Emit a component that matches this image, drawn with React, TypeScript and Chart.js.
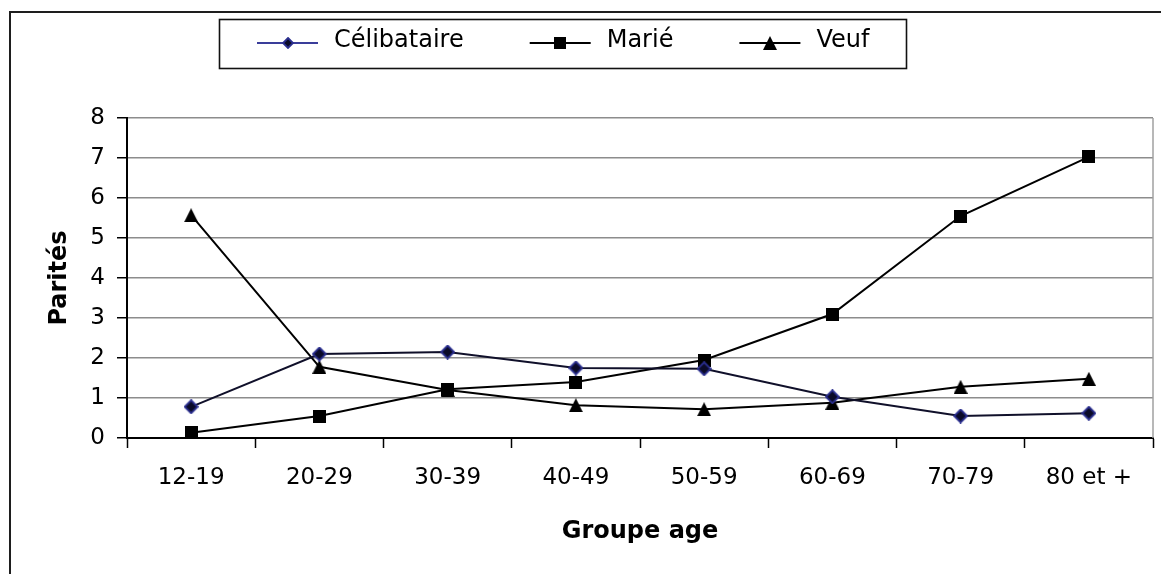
import React, { useEffect, useRef } from "react";
import { Chart, registerables } from "chart.js";

Chart.register(...registerables);

// ---- data ----
const categories = ["12-19", "20-29", "30-39", "40-49", "50-59", "60-69", "70-79", "80 et +"];
const celibataire = [0.78, 2.1, 2.15, 1.75, 1.73, 1.03, 0.55, 0.62];
const marie = [0.13, 0.55, 1.22, 1.4, 1.95, 3.1, 5.55, 7.03];
const veuf = [5.57, 1.78, 1.2, 0.82, 0.72, 0.88, 1.28, 1.48];
const seriesNames = ["Célibataire", "Marié", "Veuf"];
const yTicks = [0, 1, 2, 3, 4, 5, 6, 7, 8];
const xTitle = "Groupe age";
const yTitle = "Parités";

const FONT = '"DejaVu Sans", "Liberation Sans", Arial, sans-serif';

function makeMarker(kind: string, size: number, fill: string, stroke: string) {
  const c = document.createElement("canvas");
  c.width = size;
  c.height = size;
  const ctx = c.getContext("2d")!;
  ctx.fillStyle = fill;
  ctx.strokeStyle = stroke;
  ctx.lineWidth = 1.8;
  const s = size;
  ctx.beginPath();
  if (kind === "diamond") {
    ctx.moveTo(s / 2, 1);
    ctx.lineTo(s - 1, s / 2);
    ctx.lineTo(s / 2, s - 1);
    ctx.lineTo(1, s / 2);
    ctx.closePath();
    ctx.fill();
    ctx.stroke();
  } else if (kind === "square") {
    ctx.rect(0, 0, s, s);
    ctx.fill();
  } else {
    ctx.moveTo(s / 2, 0);
    ctx.lineTo(s, s);
    ctx.lineTo(0, s);
    ctx.closePath();
    ctx.fill();
  }
  return c;
}

export default function App() {
  const ref = useRef<HTMLCanvasElement | null>(null);

  useEffect(() => {
    if (!ref.current) return;
    const diamond = makeMarker("diamond", 15, "#0b0b28", "#2b2f8f");
    const square = makeMarker("square", 13, "#000", "#000");
    const triangle = makeMarker("triangle", 14, "#000", "#000");
    const legendDiamond = makeMarker("diamond", 12, "#0b0b28", "#2b2f8f");
    const legendSquare = makeMarker("square", 12, "#000", "#000");
    const legendTriangle = makeMarker("triangle", 14, "#000", "#000");
    const legendMarkers = [legendDiamond, legendSquare, legendTriangle];
    const legendLineColors = ["#3a3d9a", "#000", "#000"];

    const decor = {
      id: "decor",
      beforeDraw(chart: any) {
        const ctx = chart.ctx;
        ctx.save();
        ctx.fillStyle = "#fff";
        ctx.fillRect(0, 0, chart.width, chart.height);
        ctx.restore();
      },
      beforeDatasetsDraw(chart: any) {
        const ctx = chart.ctx;
        const { right, top, bottom } = chart.chartArea;
        ctx.save();
        ctx.strokeStyle = "#a0a0a0";
        ctx.lineWidth = 1.5;
        ctx.beginPath();
        ctx.moveTo(right, top);
        ctx.lineTo(right, bottom);
        ctx.stroke();
        ctx.restore();
      },
      afterDraw(chart: any) {
        const ctx = chart.ctx;
        ctx.save();
        // outer frame (top + left)
        ctx.strokeStyle = "#1e1e1e";
        ctx.lineWidth = 2;
        ctx.beginPath();
        ctx.moveTo(10, chart.height);
        ctx.lineTo(10, 12);
        ctx.lineTo(chart.width, 12);
        ctx.stroke();
        // legend box
        ctx.lineWidth = 1.6;
        ctx.strokeStyle = "#111";
        ctx.strokeRect(219.5, 19.5, 687, 49);
        // legend items
        ctx.font = `24px ${FONT}`;
        ctx.textBaseline = "middle";
        ctx.textAlign = "left";
        let x = 257;
        const ly = 43;
        chart.data.datasets.forEach((ds: any, i: number) => {
          ctx.strokeStyle = legendLineColors[i];
          ctx.lineWidth = 1.8;
          ctx.beginPath();
          ctx.moveTo(x, ly);
          ctx.lineTo(x + 61, ly);
          ctx.stroke();
          const m = legendMarkers[i];
          ctx.drawImage(m, Math.round(x + 30.5 - m.width / 2), Math.round(ly - m.height / 2));
          ctx.fillStyle = "#000";
          ctx.fillText(ds.label, x + 77, 41);
          x += 77 + ctx.measureText(ds.label).width + 66;
        });
        ctx.restore();
      },
    };

    const chart = new Chart(ref.current, {
      type: "line",
      data: {
        labels: categories,
        datasets: [
          {
            label: seriesNames[0],
            data: celibataire,
            borderColor: "#10102a",
            borderWidth: 2,
            pointStyle: diamond as any,
            tension: 0,
          },
          {
            label: seriesNames[1],
            data: marie,
            borderColor: "#000",
            borderWidth: 2,
            pointStyle: square as any,
            tension: 0,
          },
          {
            label: seriesNames[2],
            data: veuf,
            borderColor: "#000",
            borderWidth: 2,
            pointStyle: triangle as any,
            tension: 0,
          },
        ],
      },
      options: {
        responsive: false,
        animation: false,
        devicePixelRatio: 1,
        layout: { padding: { top: 118, right: 8, left: 0, bottom: 0 } },
        plugins: {
          legend: { display: false },
          tooltip: { enabled: false },
        },
        scales: {
          x: {
            type: "category",
            offset: true,
            grid: {
              offset: true,
              drawOnChartArea: false,
              drawTicks: true,
              tickLength: 10,
              tickColor: "#000",
              tickWidth: 1.5,
            },
            border: { color: "#000", width: 2 },
            ticks: {
              color: "#000",
              font: { family: FONT, size: 23 },
              padding: 16,
              maxRotation: 0,
              autoSkip: false,
            },
            title: {
              display: true,
              text: xTitle,
              color: "#000",
              font: { family: FONT, size: 24, weight: "bold" },
              padding: { top: 0, bottom: 28 },
            },
            afterFit(scale: any) {
              scale.height = 136;
            },
          },
          y: {
            type: "linear",
            min: 0,
            max: 8,
            afterBuildTicks(scale: any) {
              scale.ticks = yTicks.map((v) => ({ value: v }));
            },
            ticks: {
              color: "#000",
              font: { family: FONT, size: 23 },
              padding: 12,
            },
            grid: {
              color: "#8c8c8c",
              lineWidth: 1.5,
              tickLength: 10,
              tickColor: "#000",
              tickWidth: 1.5,
            },
            border: { color: "#000", width: 2 },
            title: {
              display: true,
              text: yTitle,
              color: "#000",
              font: { family: FONT, size: 24, weight: "bold" },
              padding: { top: 45, bottom: 0 },
            },
            afterFit(scale: any) {
              scale.width = 127;
            },
          },
        },
      } as any,
      plugins: [decor],
    });
    return () => chart.destroy();
  }, []);

  return (
    <div
      style={{
        position: "fixed",
        left: 0,
        top: 0,
        width: 1161,
        height: 574,
        background: "#fff",
        overflow: "hidden",
      }}
    >
      <canvas ref={ref} width={1161} height={574} style={{ display: "block" }} />
    </div>
  );
}
